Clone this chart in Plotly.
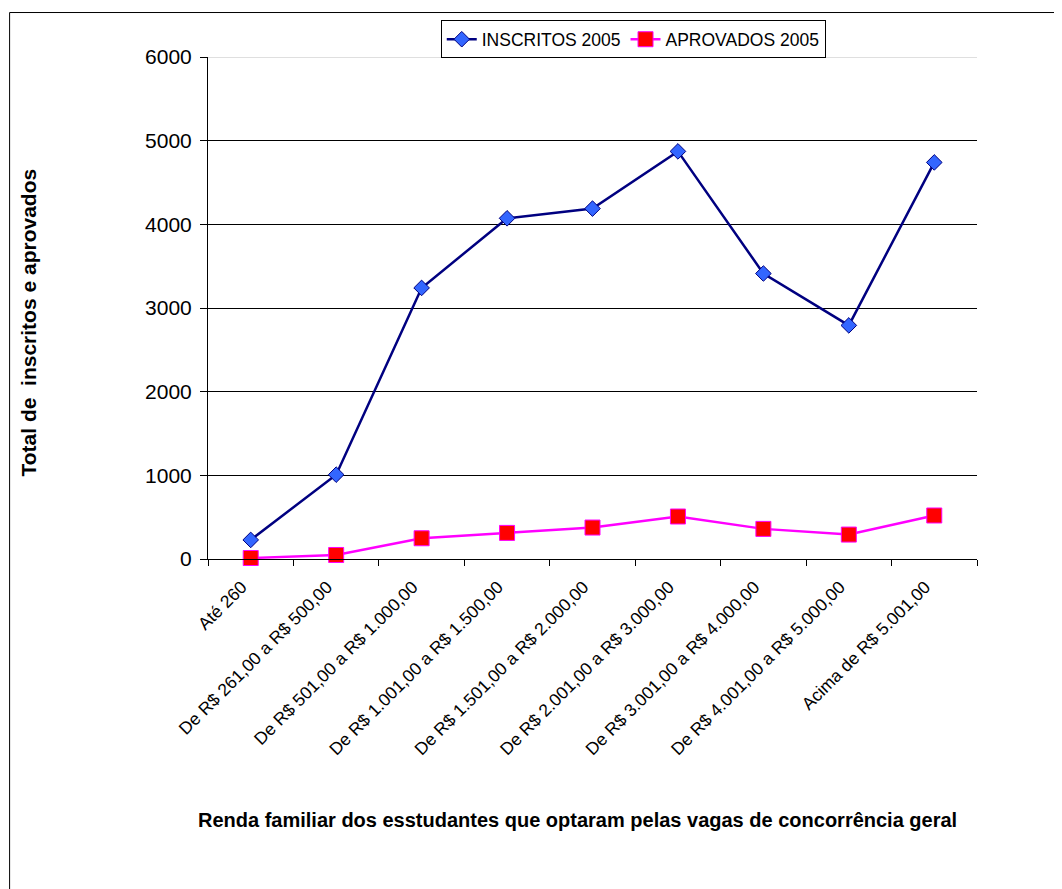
import plotly.graph_objects as go

categories = [
    "Até 260",
    "De R$ 261,00 a R$ 500,00",
    "De R$ 501,00 a R$ 1.000,00",
    "De R$ 1.001,00 a R$ 1.500,00",
    "De R$ 1.501,00 a R$ 2.000,00",
    "De R$ 2.001,00 a R$ 3.000,00",
    "De R$ 3.001,00 a R$ 4.000,00",
    "De R$ 4.001,00 a R$ 5.000,00",
    "Acima de R$ 5.001,00",
]
inscritos = [228, 1008, 3240, 4072, 4188, 4872, 3412, 2792, 4740]
aprovados = [12, 48, 248, 312, 376, 508, 360, 292, 520]
y_ticks = [0, 1000, 2000, 3000, 4000, 5000, 6000]

FONT = "Arial, Liberation Sans, sans-serif"

fig = go.Figure()
fig.add_trace(go.Scatter(
    x=categories, y=inscritos, name="INSCRITOS 2005", mode="lines+markers",
    line=dict(color="#000080", width=2.5), cliponaxis=False,
    marker=dict(symbol="diamond", size=12, color="#3366FF",
                line=dict(color="#000080", width=1)),
))
fig.add_trace(go.Scatter(
    x=categories, y=aprovados, name="APROVADOS 2005", mode="lines+markers",
    line=dict(color="#FF00FF", width=2.5), cliponaxis=False,
    marker=dict(symbol="square", size=15, color="#FF0000",
                line=dict(color="#FF00FF", width=1)),
))

fig.update_layout(
    width=1054, height=881,
    margin=dict(l=200, r=85, t=49, b=330),
    paper_bgcolor="white", plot_bgcolor="white",
    font=dict(family=FONT, color="black"),
    showlegend=True,
    legend=dict(
        orientation="h", x=0.553, y=1.073, xanchor="center", yanchor="top",
        bordercolor="black", borderwidth=1, bgcolor="white",
        font=dict(size=17.5, family=FONT), itemwidth=30,
        tracegroupgap=0,
    ),
    xaxis=dict(
        type="category", tickson="boundaries", ticks="outside", ticklen=6,
        tickcolor="black", showline=True, linecolor="black", linewidth=1,
        showgrid=False, tickangle=-45, tickfont=dict(size=17.5, family=FONT),
        ticklabelstandoff=10, ticklabelshift=-9,
        range=[-0.5, len(categories) - 0.5],
    ),
    yaxis=dict(
        range=[0, 6000], tickvals=y_ticks, ticks="outside", ticklen=7,
        tickcolor="black", showline=True, linecolor="black", linewidth=1,
        showgrid=True, gridcolor="black", gridwidth=1, zeroline=False,
        tickfont=dict(size=21, family=FONT), ticklabelstandoff=4,
    ),
    annotations=[
        dict(text="<b>Total de  inscritos e aprovados</b>", xref="paper", yref="paper",
             x=-0.2328, y=0.471, showarrow=False, textangle=-90,
             xanchor="center", yanchor="middle", font=dict(size=21, family=FONT)),
        dict(text="<b>Renda familiar dos esstudantes que optaram pelas vagas de concorrência geral</b>",
             xref="paper", yref="paper", x=0.481, y=-0.519, showarrow=False,
             xanchor="center", yanchor="middle", font=dict(size=20, family=FONT)),
    ],
    shapes=[
        dict(type="line", xref="paper", yref="y", x0=0, x1=1, y0=6000, y1=6000,
             line=dict(color="#C0C0C0", width=1), layer="above"),
        dict(type="line", xref="paper", yref="paper", x0=-0.258, x1=-0.258,
             y0=1.0886, y1=-0.8, line=dict(color="black", width=1)),
        dict(type="line", xref="paper", yref="paper", x0=-0.258, x1=1.3,
             y0=1.0886, y1=1.0886, line=dict(color="black", width=1)),
    ],
)

fig.write_html("out.html")
